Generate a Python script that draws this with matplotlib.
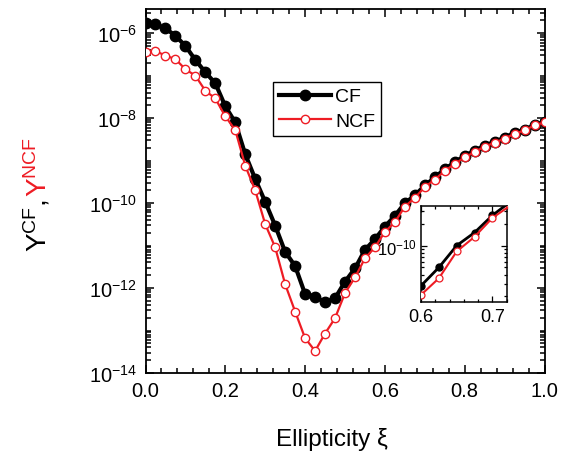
import matplotlib
matplotlib.use("Agg")
import matplotlib.pyplot as plt
from matplotlib.ticker import FixedLocator, LogLocator, AutoMinorLocator, FuncFormatter, NullFormatter
from matplotlib.transforms import IdentityTransform
import math

plt.rcParams['font.family'] = ['Liberation Sans', 'DejaVu Sans']
plt.rcParams['mathtext.fontset'] = 'custom'
plt.rcParams['mathtext.rm'] = 'Liberation Sans'
plt.rcParams['mathtext.it'] = 'Liberation Sans:italic'
plt.rcParams['mathtext.bf'] = 'Liberation Sans:bold'

# ---- data ----
xi = [0.0, 0.025, 0.05, 0.075, 0.1, 0.125, 0.15, 0.175, 0.2, 0.225,
      0.25, 0.275, 0.3, 0.325, 0.35, 0.375, 0.4, 0.425, 0.45, 0.475,
      0.5, 0.525, 0.55, 0.575, 0.6, 0.625, 0.65, 0.675, 0.7, 0.725,
      0.75, 0.775, 0.8, 0.825, 0.85, 0.875, 0.9, 0.925, 0.95, 0.975, 1.0]

y_cf = [1.78e-6, 1.62e-6, 1.29e-6, 8.7e-7, 5.0e-7, 2.34e-7, 1.2e-7, 6.6e-8, 1.9e-8, 7.9e-9,
        1.41e-9, 3.7e-10, 1.07e-10, 2.95e-11, 7.1e-12, 3.3e-12, 7.2e-13, 6.3e-13, 4.6e-13, 5.75e-13,
        1.41e-12, 2.9e-12, 7.9e-12, 1.41e-11, 2.8e-11, 5.0e-11, 1.0e-10, 1.51e-10, 2.6e-10, 4.0e-10,
        6.3e-10, 9.1e-10, 1.29e-9, 1.7e-9, 2.24e-9, 2.75e-9, 3.47e-9, 4.47e-9, 5.25e-9, 6.9e-9, 7.9e-9]

y_ncf = [3.63e-7, 3.8e-7, 2.95e-7, 2.45e-7, 1.41e-7, 1.0e-7, 4.4e-8, 2.9e-8, 1.1e-8, 5.25e-9,
         7.6e-10, 2.0e-10, 3.2e-11, 9.1e-12, 1.23e-12, 2.8e-13, 6.6e-14, 3.3e-14, 8.5e-14, 1.95e-13,
         7.6e-13, 1.78e-12, 5.0e-12, 9.1e-12, 2.1e-11, 3.55e-11, 8.3e-11, 1.32e-10, 2.4e-10, 3.55e-10,
         5.75e-10, 8.3e-10, 1.2e-9, 1.58e-9, 2.14e-9, 2.63e-9, 3.3e-9, 4.27e-9, 5.13e-9, 6.76e-9, 7.9e-9]

xticks = [0.0, 0.2, 0.4, 0.6, 0.8, 1.0]
yticks = [1e-14, 1e-12, 1e-10, 1e-8, 1e-6]
inset_xticks = [0.6, 0.7]
inset_yticks = [1e-10]

RED = '#ee1c24'

W, H = 576, 464
fig = plt.figure(figsize=(W / 100, H / 100), dpi=100)

def frac(x0, y0, x1, y1):
    return [x0 / W, 1 - y1 / H, (x1 - x0) / W, (y1 - y0) / H]

ax = fig.add_axes(frac(145.5, 10, 544.5, 374))

ax.plot(xi, y_cf, '-o', color='black', lw=3.0, ms=7.5, mfc='black', mec='black',
        label='CF', zorder=3)
ax.plot(xi, y_ncf, '-o', color=RED, lw=1.6, ms=6.0, mfc='white', mec=RED, mew=1.0,
        label='NCF', zorder=4)

ax.set_yscale('log')
ax.set_xlim(0, 1.0)
ax.set_ylim(1e-14, 3.7e-6)

def logfmt(v, pos):
    if v <= 0:
        return ''
    e = int(round(math.log10(v)))
    return r'$\mathregular{10^{%d}}$' % e

ax.xaxis.set_major_locator(FixedLocator(xticks))
ax.xaxis.set_minor_locator(AutoMinorLocator(5))
ax.xaxis.set_major_formatter(FuncFormatter(lambda v, p: '%.1f' % v))
ax.yaxis.set_major_locator(FixedLocator(yticks))
ax.yaxis.set_minor_locator(LogLocator(base=10, subs=[1, 2, 3, 4, 5, 6, 7, 8, 9], numticks=50))
ax.yaxis.set_major_formatter(FuncFormatter(logfmt))
ax.yaxis.set_minor_formatter(NullFormatter())

ax.tick_params(which='both', direction='in', top=True, right=True, width=1.1)
ax.tick_params(which='major', length=6, labelsize=14.5, pad=6)
ax.tick_params(which='minor', length=3.5)
for s in ax.spines.values():
    s.set_linewidth(1.3)

leg = ax.legend(loc='upper left', bbox_to_anchor=(0.3195, 0.7995), borderaxespad=0,
                fancybox=False, edgecolor='black', framealpha=1, fontsize=14,
                handlelength=2.7, handletextpad=0.2, borderpad=0.3, labelspacing=0.35)
leg.get_frame().set_linewidth(1.0)

# x label
fig.text(332 / W, 1 - 440 / H, 'Ellipticity ξ', fontsize=17.5, ha='center', va='center')

# y label: black Y^CF, then red Y^NCF
fig.canvas.draw()
r = fig.canvas.get_renderer()
t1 = fig.text(47, H - 252, r'$\mathregular{Y^{CF},}$', color='black', fontsize=20,
              rotation=90, rotation_mode='anchor', ha='left', va='baseline',
              transform=IdentityTransform())
ext = t1.get_window_extent(renderer=r)
gap = 2
t2 = fig.text(47, H - 252 + ext.height + gap, r'$\mathregular{Y^{NCF}}$', color=RED, fontsize=20,
              rotation=90, rotation_mode='anchor', ha='left', va='baseline',
              transform=IdentityTransform())

# inset
axi = fig.add_axes(frac(421, 207, 506.7, 303.3))
axi.plot(xi, y_cf, '-o', color='black', lw=2.0, ms=5.0, mfc='black', mec='black', zorder=3)
axi.plot(xi, y_ncf, '-o', color=RED, lw=1.5, ms=5.0, mfc='white', mec=RED, mew=0.9, zorder=4)
axi.set_yscale('log')
axi.set_xlim(0.6, 0.72)
axi.set_ylim(1.66e-11, 3.5e-10)
axi.xaxis.set_major_locator(FixedLocator(inset_xticks))
axi.xaxis.set_minor_locator(AutoMinorLocator(5))
axi.xaxis.set_major_formatter(FuncFormatter(lambda v, p: '%.1f' % v))
axi.yaxis.set_major_locator(FixedLocator(inset_yticks))
axi.yaxis.set_minor_locator(LogLocator(base=10, subs=[1, 2, 3, 4, 5, 6, 7, 8, 9], numticks=50))
axi.yaxis.set_major_formatter(FuncFormatter(logfmt))
axi.yaxis.set_minor_formatter(NullFormatter())
axi.tick_params(which='both', direction='in', top=True, right=True, width=0.9)
axi.tick_params(which='major', length=4.5, labelsize=13, pad=4)
axi.tick_params(which='minor', length=2.5)
axi.tick_params(axis='y', which='major', labelsize=12, pad=3)
for s in axi.spines.values():
    s.set_linewidth(1.1)

fig.savefig('out.png', dpi=100)
